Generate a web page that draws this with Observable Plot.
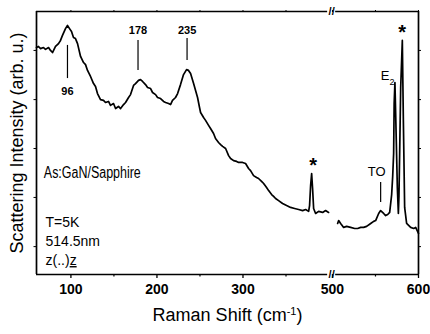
<!DOCTYPE html>
<html>
<head>
<meta charset="utf-8">
<script src="https://cdn.jsdelivr.net/npm/d3@7"></script>
<script src="https://cdn.jsdelivr.net/npm/@observablehq/plot@0.6"></script>
<style>
html,body{margin:0;padding:0;background:#fff;overflow:hidden}
#chart svg{display:block}
</style>
</head>
<body>
<div id="chart"></div>
<script>
// ---- Data (Raman shift in cm^-1, intensity in arbitrary units) ----
const lowShift = [60,62.3,64.7,68.1,70.5,74,76.3,78.6,82.1,85.6,
  87.9,90.2,93.7,96,98.4,100.7,103,105.3,107.7,111.2,
  114.7,117,119.3,122.8,126.3,128.6,130.9,134.4,137.9,140.2,
  143.7,146,149.5,151.9,155.3,157.7,161.2,163.5,167,169.3,
  172.8,175.1,178.6,180.9,183.3,186.7,189.1,192.6,194.9,198.4,
  200.7,204.2,207.7,210,213.5,215.8,218.1,221.6,224,227.4,
  230.9,234.4,236.7,239.1,242.6,244.9,247.2,249.5,250.7,254.2,
  256.5,260,262.3,265.8,268.1,271.6,274,276.3,279.8,283.3,
  285.6,289.1,292.6,294.9,299.5,303,306.5,308.8,312.3,315.8,
  318.1,321.6,324,327.4,329.8,333.3,335.6,337.9,341.4,346,
  350.7,355.3,360,364.7,369.3,372.8,376.3,377.4,378.6,379.8,
  380.9,382.1,384.4,387.9,392.6,396,399.5];
const lowIntensity = [86.3,86.7,85.9,86.3,85.6,86.3,85.2,84.4,86.7,87.8,
  89.0,90.9,93.5,94.7,93.5,92.4,90.1,89.7,87.8,82.9,
  80.6,79.8,77.6,75.3,72.6,71.5,68.8,66.5,66.2,65.4,
  65.8,64.3,65.0,63.1,63.9,63.1,64.6,65.4,67.3,68.4,
  71.9,72.6,73.8,74.1,73.4,72.2,71.1,70.7,69.2,68.4,
  67.3,66.9,65.8,65.4,65.0,64.6,66.2,67.3,68.8,72.2,
  76.0,77.9,77.6,76.4,72.6,70.0,67.3,63.5,61.6,59.7,
  58.6,56.7,55.5,53.6,51.7,50.2,49.4,48.7,47.9,45.2,
  44.1,43.3,43.0,42.6,42.6,42.2,40.3,39.5,37.6,36.9,
  36.5,35.4,34.6,33.1,31.9,30.4,29.7,28.9,28.1,27.0,
  26.2,25.5,25.1,24.7,24.3,24.7,24.0,26.2,33.8,38.4,
  32.7,25.1,23.2,24.0,23.6,24.3,23.6];
const highShift = [506,507.2,509.5,513,516.5,521.1,525.8,529.3,532.8,536.2,
  539.7,544.4,547.9,550.2,553.7,556,559.5,561.8,564.2,566.5,
  568.8,570,571.1,571.7,572.6,573.4,574.2,575.4,576.6,577.3,
  578.1,579.3,581.2,582.4,583.9,586.2,590.9,594.4,596.7,600];
const highIntensity = [19.4,20.5,19.4,17.9,18.3,17.9,17.5,17.5,17.9,17.9,
  18.3,19.4,20.2,20.5,23.2,24.3,23.2,22.4,22.8,23.6,
  30.4,37.3,46.0,65.0,73.0,62.0,50.6,33.1,23.2,30.0,
  46.0,71.1,89.0,58.6,25.5,19.4,17.9,17.5,17.9,15.6];

// axis ticks
const majorTicks = [100, 200, 300, 500, 600];
const minorTicks = [150, 250, 350, 550];
const sideTicks = [10.6, 29.3, 47.9, 66.5, 85.2];

// labelled phonon modes
const peakShift = [96, 178, 235];
const peakText = ["96", "178", "235"];

// annotations (positions in data units)
const peakNotes = [
  {textY: 69.5, top: 87.1, bottom: 74.5},
  {textY: 92.8, top: 89.0, bottom: 77.6},
  {textY: 92.8, top: 89.7, bottom: 81.4}
];
const modeNotes = [
  {text: "*",  at: 381.5, y: 43.0, kind: "star"},
  {text: "TO", at: 551.3, y: 39.2, kind: "label"},
  {text: "E2", at: 564.1, y: 75.7, kind: "label"},
  {text: "*",  at: 581.0, y: 93.7, kind: "star"}
];
const toLine = {at: 556, top: 35.0, bottom: 27.4};
const insetLines = [
  {text: "As:GaN/Sapphire", at: 68.5, y: 38.8, big: true},
  {text: "T=5K",     at: 70.5, y: 19.8},
  {text: "514.5nm",  at: 70.5, y: 12.5},
  {text: "z(..)z",   at: 70.5, y: 5.3}
];

// ---- broken axis: 400–500 cm^-1 is cut out ----
const X_MIN = 60, X_MAX = 600;
const BREAK_START = 400, BREAK_END = 500, BREAK_GAP = 4;
const toAxis = x => x <= BREAK_START ? x : x - (BREAK_END - BREAK_START) + BREAK_GAP;
const fromAxis = v => v <= BREAK_START ? v : Math.round(v + (BREAK_END - BREAK_START) - BREAK_GAP);

const low = lowShift.map((s, i) => ({s, v: lowIntensity[i]}));
const high = highShift.map((s, i) => ({s, v: highIntensity[i]}));
const peaks = peakShift.map((s, i) => ({...peakNotes[i], at: s, text: peakText[i]}));

const FONT = "'Liberation Sans', Arial, Helvetica, sans-serif";
const gapL = toAxis(BREAK_START) - 1.6, gapR = toAxis(BREAK_END) + 3.7;
const breakX = (gapL + gapR) / 2;

const chart = Plot.plot({
  width: 430, height: 334,
  marginLeft: 36, marginRight: 12, marginTop: 11, marginBottom: 60,
  style: {fontFamily: FONT, background: "#fff", color: "#000", overflow: "visible"},
  x: {domain: [toAxis(X_MIN), toAxis(X_MAX)], label: null},
  y: {domain: [0, 100], label: null},
  marks: [
    // frame with break
    Plot.ruleX([X_MIN, X_MAX].map(toAxis), {stroke: "#000", strokeWidth: 1.7}),
    Plot.ruleY([0, 100], {x1: toAxis(X_MIN), x2: gapL, stroke: "#000", strokeWidth: 1.7}),
    Plot.ruleY([0, 100], {x1: gapR, x2: toAxis(X_MAX), stroke: "#000", strokeWidth: 1.7}),
    Plot.text([0, 100], {x: breakX, y: d => d, text: () => "//", fontSize: 11, fontWeight: "bold", lineAnchor: "middle", dy: -0.5}),
    // ticks
    Plot.axisX(majorTicks.map(toAxis), {anchor: "bottom", tickSize: 4, tickPadding: 6,
      tickFormat: d => String(fromAxis(d)), fontSize: 14, fontWeight: "bold", strokeWidth: 1.3, label: null}),
    Plot.axisX(minorTicks.map(toAxis), {anchor: "bottom", tickSize: 2.5, tickFormat: () => "", strokeWidth: 1.2, label: null}),
    Plot.axisX(majorTicks.concat(minorTicks).map(toAxis), {anchor: "top", tickSize: 2, tickFormat: () => "", strokeWidth: 1, label: null}),
    Plot.axisY(sideTicks, {anchor: "left", tickSize: 2.5, tickFormat: () => "", strokeWidth: 1, label: null}),
    Plot.axisY(sideTicks, {anchor: "right", tickSize: 2, tickFormat: () => "", strokeWidth: 1, label: null}),
    // spectrum
    Plot.line(low, {x: d => toAxis(d.s), y: "v", stroke: "#000", strokeWidth: 1.7, strokeLinejoin: "round"}),
    Plot.line(high, {x: d => toAxis(d.s), y: "v", stroke: "#000", strokeWidth: 1.7, strokeLinejoin: "round"}),
    // peak markers
    Plot.ruleX(peaks, {x: "at", y1: "top", y2: "bottom", stroke: "#000", strokeWidth: 1.2}),
    Plot.text(peaks, {x: "at", y: "textY", text: "text", fontSize: 11, fontWeight: "bold"}),
    Plot.ruleX([toLine], {x: d => toAxis(d.at), y1: "top", y2: "bottom", stroke: "#000", strokeWidth: 1.2}),
    Plot.text(modeNotes.filter(d => d.kind === "label"), {x: d => toAxis(d.at), y: "y", text: "text", fontSize: 13}),
    Plot.text(modeNotes.filter(d => d.kind === "star"), {x: d => toAxis(d.at), y: "y", text: "text", fontSize: 20, fontWeight: "bold", dy: 4.6}),
    // inset text
    Plot.text(insetLines, {x: "at", y: "y", text: "text", textAnchor: "start",
      fontSize: d => d.big ? 16 : 14, fontWeight: d => d.big ? "normal" : "bold"}),
    // axis titles
    Plot.text(["Scattering Intensity (arb. u.)"], {text: d => d, frameAnchor: "left", textAnchor: "middle", dx: -19.5, rotate: -90, fontSize: 18}),
    Plot.text(["Raman Shift (cm-1)"], {text: d => d, frameAnchor: "bottom", textAnchor: "middle", dy: 46, fontSize: 18})
  ]
});

// rich text touches: superscript, subscript, underline, condensed inset title
const NS = "http://www.w3.org/2000/svg";
function rebuild(el, parts) {
  el.textContent = "";
  for (const p of parts) {
    const t = document.createElementNS(NS, "tspan");
    t.textContent = p.t;
    if (p.shift) { t.setAttribute("baseline-shift", p.shift); t.setAttribute("font-size", p.size); }
    if (p.underline) t.setAttribute("text-decoration", "underline");
    el.appendChild(t);
  }
}
d3.select(chart).selectAll("text").each(function() {
  const s = this.textContent;
  if (s === "Raman Shift (cm-1)") rebuild(this, [{t: "Raman Shift (cm"}, {t: "-1", shift: "super", size: "11"}, {t: ")"}]);
  else if (s === "E2") rebuild(this, [{t: "E"}, {t: "2", shift: "sub", size: "9"}]);
  else if (s === "z(..)z") rebuild(this, [{t: "z(..)"}, {t: "z", underline: true}]);
  else if (s === "As:GaN/Sapphire") { this.setAttribute("textLength", "97"); this.setAttribute("lengthAdjust", "spacingAndGlyphs"); }
});

document.getElementById("chart").appendChild(chart);
</script>
</body>
</html>
